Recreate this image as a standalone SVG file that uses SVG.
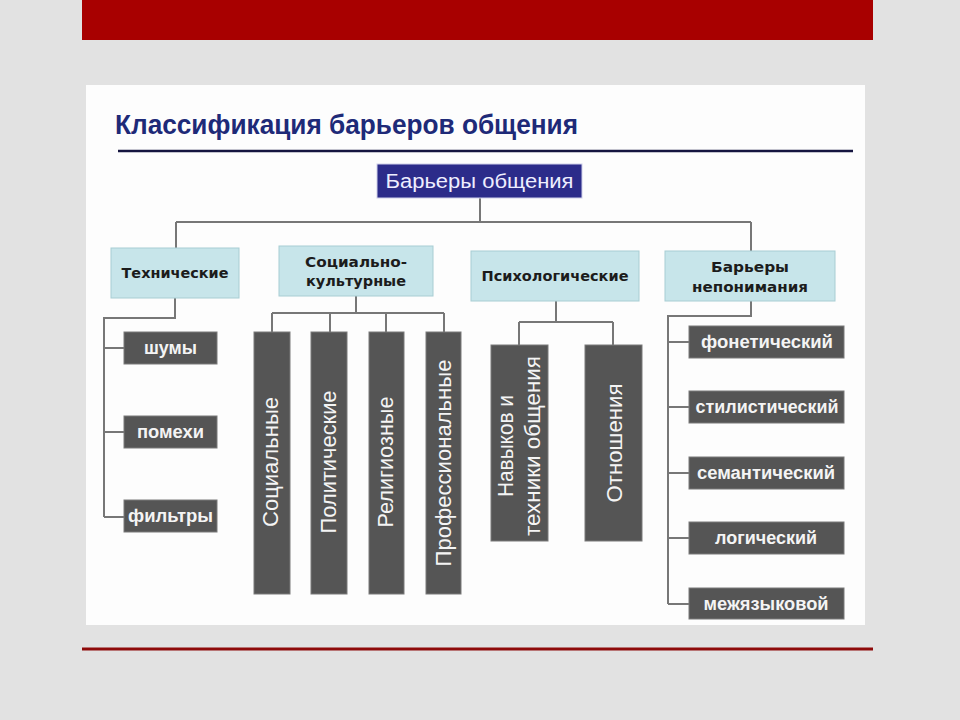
<svg xmlns="http://www.w3.org/2000/svg" width="960" height="720" viewBox="0 0 960 720">
<style>
.conn{stroke:#777;stroke-width:2;fill:none}
.l2 rect{fill:#c7e5ea;stroke:#a8cdd3;stroke-width:1}
.l2 text{font-family:"DejaVu Sans","Liberation Sans",sans-serif;font-weight:bold;font-size:14px;fill:#1c1c1c;text-anchor:middle}
.dk rect{fill:#555;stroke:#7a7a7a;stroke-width:1}
.dk text{font-family:"Liberation Sans",Arial,sans-serif;font-weight:bold;font-size:18px;fill:#f4f4f4;text-anchor:middle}
.bar rect{fill:#555;stroke:#7a7a7a;stroke-width:1}
.bar text{font-family:"Liberation Sans",Arial,sans-serif;font-size:22px;fill:#f4f4f4;text-anchor:middle}
</style>
<rect x="0" y="0" width="960" height="720" fill="#e2e2e2"/>
<rect x="82" y="0" width="791" height="40" fill="#a80000"/>
<rect x="86" y="85" width="779" height="540" fill="#fdfdfd"/>
<line x1="82" y1="649" x2="873" y2="649" stroke="#8e0a0a" stroke-width="3"/>
<text x="115" y="134" font-family="Liberation Sans, Arial, sans-serif" font-weight="bold" font-size="27" fill="#1e2a78" textLength="463" lengthAdjust="spacingAndGlyphs">Классификация барьеров общения</text>
<line x1="118" y1="151" x2="853" y2="151" stroke="#151540" stroke-width="2.5"/>

<g id="connectors">
<path class="conn" d="M480 198 V222 M176 222 H751 M176 222 V248 M751 222 V251"/>
<path class="conn" d="M175 298 V318 H104 V517 M104 348 H124 M104 432 H124 M104 517 H124"/>
<path class="conn" d="M356 296 V313 M272 313 H444 M272 313 V332 M330 313 V332 M386 313 V332 M444 313 V332"/>
<path class="conn" d="M556 301 V322 M519 322 H613 M519 322 V345 M613 322 V345"/>
<path class="conn" d="M751 301 V316 H668 V604 M668 342 H689 M668 407 H689 M668 473 H689 M668 538 H689 M668 604 H689"/>
</g>

<g id="root">
<rect x="377" y="164" width="205" height="34" fill="#2c2c8a" stroke="#cfd0ea" stroke-width="1"/>
<text x="479.5" y="188" font-family="Liberation Sans, Arial, sans-serif" font-size="20" fill="#eeeeff" text-anchor="middle" textLength="188" lengthAdjust="spacingAndGlyphs">Барьеры общения</text>
</g>

<g id="tech" class="l2">
<rect x="111" y="248" width="128" height="50"/>
<text x="175" y="278" textLength="107" lengthAdjust="spacingAndGlyphs">Технические</text>
</g>
<g id="socio" class="l2">
<rect x="279" y="246" width="154" height="50"/>
<text x="356" y="267" textLength="102" lengthAdjust="spacingAndGlyphs">Социально-</text>
<text x="356" y="286" textLength="100" lengthAdjust="spacingAndGlyphs">культурные</text>
</g>
<g id="psych" class="l2">
<rect x="471" y="251" width="168" height="50"/>
<text x="555" y="281" textLength="147" lengthAdjust="spacingAndGlyphs">Психологические</text>
</g>
<g id="misund" class="l2">
<rect x="665" y="251" width="170" height="50"/>
<text x="750" y="272" textLength="78" lengthAdjust="spacingAndGlyphs">Барьеры</text>
<text x="750" y="292" textLength="116" lengthAdjust="spacingAndGlyphs">непонимания</text>
</g>

<g id="noise" class="dk">
<rect x="124" y="332" width="93" height="32"/>
<text x="170.5" y="354" textLength="53" lengthAdjust="spacingAndGlyphs">шумы</text>
</g>
<g id="interference" class="dk">
<rect x="124" y="416" width="93" height="32"/>
<text x="170.5" y="438" textLength="67" lengthAdjust="spacingAndGlyphs">помехи</text>
</g>
<g id="filters" class="dk">
<rect x="124" y="500" width="93" height="32"/>
<text x="170.5" y="522" textLength="85" lengthAdjust="spacingAndGlyphs">фильтры</text>
</g>

<g id="social" class="bar">
<rect x="254" y="332" width="36" height="262"/>
<text transform="translate(278,462) rotate(-90)" textLength="130" lengthAdjust="spacingAndGlyphs">Социальные</text>
</g>
<g id="political" class="bar">
<rect x="311" y="332" width="36" height="262"/>
<text transform="translate(336,462) rotate(-90)" textLength="143" lengthAdjust="spacingAndGlyphs">Политические</text>
</g>
<g id="religious" class="bar">
<rect x="369" y="332" width="35" height="262"/>
<text transform="translate(393,462) rotate(-90)" textLength="131" lengthAdjust="spacingAndGlyphs">Религиозные</text>
</g>
<g id="professional" class="bar">
<rect x="426" y="332" width="35" height="262"/>
<text transform="translate(451,463) rotate(-90)" textLength="207" lengthAdjust="spacingAndGlyphs">Профессиональные</text>
</g>

<g id="skills" class="bar">
<rect x="491" y="345" width="57" height="196"/>
<text transform="translate(513,446) rotate(-90)" textLength="102" lengthAdjust="spacingAndGlyphs">Навыков и</text>
<text transform="translate(540,446) rotate(-90)" textLength="180" lengthAdjust="spacingAndGlyphs">техники общения</text>
</g>
<g id="relations" class="bar">
<rect x="585" y="345" width="57" height="196"/>
<text transform="translate(622,443) rotate(-90)" textLength="119" lengthAdjust="spacingAndGlyphs">Отношения</text>
</g>

<g id="phonetic" class="dk">
<rect x="689" y="326" width="155" height="32"/>
<text x="767" y="348" textLength="132" lengthAdjust="spacingAndGlyphs">фонетический</text>
</g>
<g id="stylistic" class="dk">
<rect x="689" y="391" width="155" height="32"/>
<text x="767" y="413" textLength="143" lengthAdjust="spacingAndGlyphs">стилистический</text>
</g>
<g id="semantic" class="dk">
<rect x="689" y="457" width="155" height="32"/>
<text x="766" y="479" textLength="138" lengthAdjust="spacingAndGlyphs">семантический</text>
</g>
<g id="logical" class="dk">
<rect x="689" y="522" width="155" height="32"/>
<text x="766" y="544" textLength="102" lengthAdjust="spacingAndGlyphs">логический</text>
</g>
<g id="interlingual" class="dk">
<rect x="689" y="588" width="155" height="31"/>
<text x="766" y="610" textLength="125" lengthAdjust="spacingAndGlyphs">межязыковой</text>
</g>
</svg>
